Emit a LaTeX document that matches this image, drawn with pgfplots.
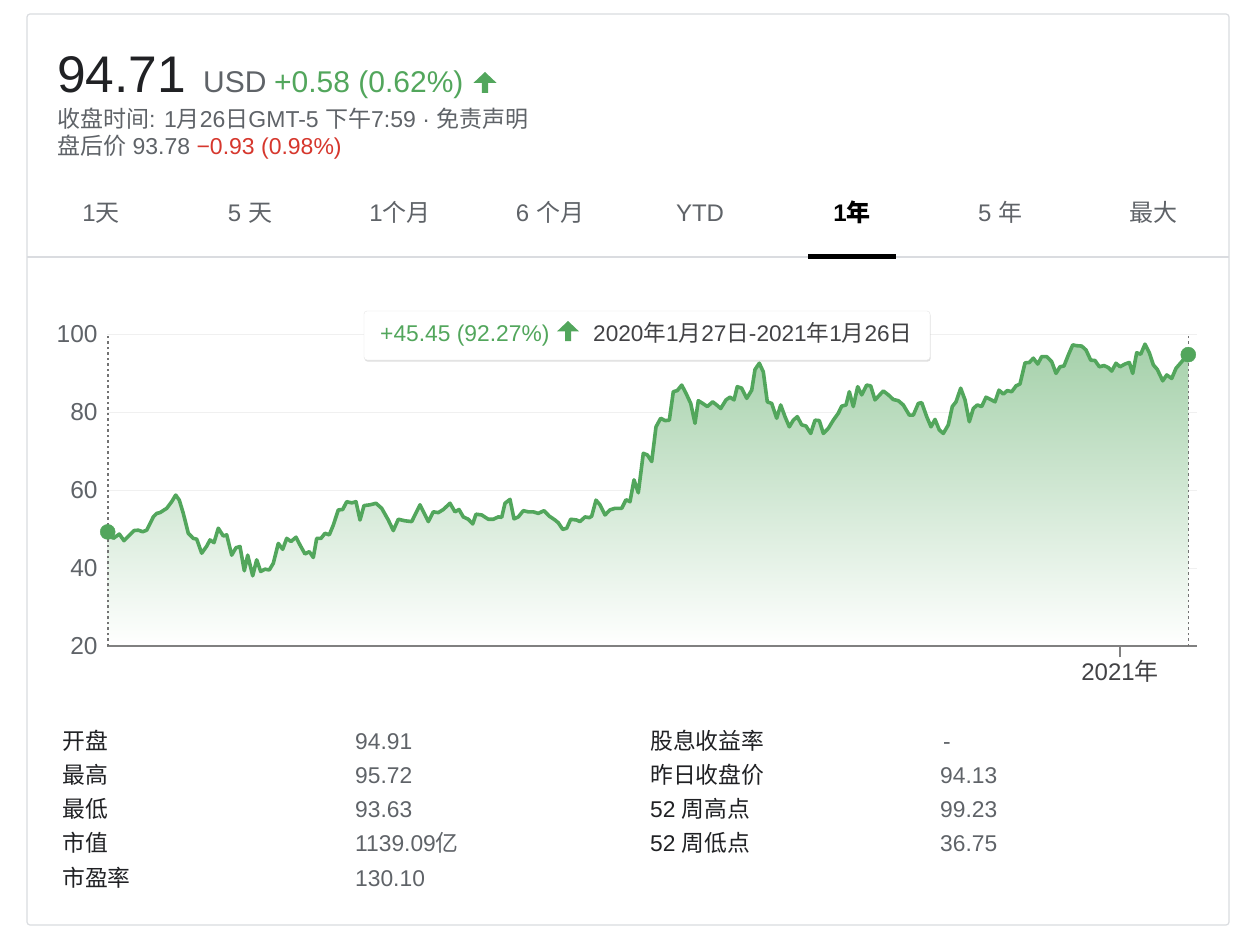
\documentclass[border=0pt]{standalone}
\usepackage{fontspec}
\setmainfont{Liberation Sans}
\newfontfamily\cjk{Noto Sans CJK SC}
\usepackage{pgfplots}
\usepackage{pgfplotstable}
\pgfplotsset{compat=1.18}
\usetikzlibrary{shadows}
\definecolor{gup}{RGB}{82,166,92}
\definecolor{gred}{RGB}{214,55,45}
\definecolor{tdark}{RGB}{32,33,36}
\definecolor{tgray}{RGB}{95,99,104}
\definecolor{bord}{RGB}{218,220,224}
\newcommand\zh[1]{{\cjk #1}}
\newcommand\fs[1]{\fontsize{#1}{#1}\selectfont}
\newcommand\garrow[3]{% x center, y top (px), height
  \fill[gup] ({#1},{-(#2)}) -- ({#1+0.55*#3},{-(#2)-0.52*#3}) -- ({#1+0.15*#3},{-(#2)-0.52*#3})
   -- ({#1+0.15*#3},{-(#2)-#3}) -- ({#1-0.15*#3},{-(#2)-#3}) -- ({#1-0.15*#3},{-(#2)-0.52*#3})
   -- ({#1-0.55*#3},{-(#2)-0.52*#3}) -- cycle;}

\pgfplotstableread{
x y
107.7 49.26
113.3 47.6
119.3 48.7
124 47.0
134 49.6
138.3 49.7
142.7 49.3
146.7 49.7
153.3 53.1
156.7 54.0
160 54.2
166.7 55.3
171.7 57.0
175.7 58.7
179.3 57.4
183.3 54.0
188.3 48.9
193.3 47.6
196.7 47.4
201.7 43.8
206.7 45.6
210 47.2
214 46.5
218.3 50.2
223.3 48.2
226.7 48.5
231.7 43.3
236 45.2
240 45.5
244.3 39.3
247.7 43.3
252.7 38.0
256.7 42.1
260.7 39.1
265 39.7
269.3 39.5
273.3 41.2
278.3 46.3
282.7 44.8
286.7 47.6
291 46.8
296 47.9
300 45.9
305 43.6
309.3 44.2
313.3 42.7
316.7 47.6
321 47.6
325 48.9
329.3 48.5
333.3 51.0
338.3 54.9
342.7 55.0
346.7 57.0
351.7 56.7
356 57.0
360 52.3
364 56.0
370 56.2
376 56.6
381.7 55.3
388.3 52.3
393.3 49.6
398.3 52.5
405 52.1
411.7 51.9
420 56.2
428.3 51.9
433.3 54.4
438.3 54.2
443.3 55.0
450 56.6
455 54.4
459 55.0
463.3 53.1
468.3 52.5
472.7 51.3
476 53.8
481.7 53.6
488.3 52.5
493.3 52.5
498.3 53.1
501.7 53.0
505 56.6
510 57.6
514 52.6
518.3 53.1
523.3 54.7
528.3 54.4
533.3 54.4
538.3 54.0
544 54.7
549.3 53.3
555 52.3
558.3 51.6
562.7 49.9
566.7 50.2
570.7 52.5
576.7 52.3
580 51.9
585 53.1
589.3 52.9
591.7 53.3
596 57.4
600 56.2
605 53.6
610 54.9
615 55.3
621.7 55.3
626 57.5
630 57.0
634 62.6
638.3 59.3
643.3 69.4
647.3 69.0
651.7 67.3
656 76.2
660.7 78.4
665 77.8
669.3 77.9
673.3 85.2
677.3 85.5
681.7 86.9
686 84.8
690.7 82.2
695 77.1
698.3 82.9
703.3 82.1
707.3 81.4
712.7 82.6
716.7 81.8
720.7 80.9
726 83.1
730 83.8
734 83.1
737.3 86.5
741.7 86.1
746.7 83.5
751.7 85.6
755 90.9
759.3 92.5
763.3 90.3
767.3 82.6
771.7 82.2
776.7 78.4
780.7 81.8
785 78.8
789.3 76.2
793.3 77.9
797.3 78.8
801.7 76.7
806 76.4
810.7 74.5
815 77.9
819.3 77.8
823.3 74.5
828.3 75.8
833.3 77.9
838.3 79.7
841.7 81.5
846 81.8
849.3 85.2
853.3 81.4
857.7 86.5
861.7 84.4
866.7 86.9
870.7 86.7
875 83.1
883.3 85.4
888.3 84.4
893.3 83.2
898.3 82.9
903.3 81.8
909.3 79.2
913.3 79.2
918.3 82.2
921.7 82.4
926.7 78.8
931 76.2
935 78.1
939.3 75.4
943.3 74.5
948.3 76.7
952.3 81.4
956 82.6
960.7 86.1
965 83.1
969.3 77.5
973.3 80.9
977.3 81.8
981.7 81.4
986 83.8
990.7 83.2
995 82.6
999 85.6
1003.3 84.6
1007.3 85.5
1011.7 85.2
1016 86.7
1020 87.2
1025 92.6
1029.3 92.7
1033.3 93.8
1037.7 92.3
1041.7 94.2
1046.7 94.2
1051.7 92.9
1056 89.9
1060 91.6
1064 91.8
1068.3 94.6
1072.7 97.2
1076.7 97.0
1081.7 96.9
1086 95.9
1090.7 93.3
1095 93.2
1099.3 91.6
1104 91.9
1108.3 91.4
1111.7 90.5
1116 92.5
1120 91.6
1125 92.3
1129.3 92.7
1132.7 89.9
1136.7 95.2
1140.7 94.8
1145 97.4
1149.3 95.2
1153.3 92.1
1157.3 90.9
1162.7 88.0
1166.7 89.5
1171.7 88.6
1176 91.2
1182.7 93.2
1188.3 94.71
}\pricedata

\begin{document}
\begin{tikzpicture}[x=1pt,y=1pt]
\path[use as bounding box, fill=white] (0,0) rectangle (1236,-933);
% card
\draw[bord, line width=1.2pt, rounded corners=3pt] (27,-14) rectangle (1229,-925);
\draw[bord, line width=1.2pt] (27,-257) -- (1229,-257);
\fill[black] (808,-254) rectangle (896,-259);

% header
\node[anchor=base west, inner sep=0, text=tdark] at (57,-93) {\fs{51.5}94.71};
\node[anchor=base west, inner sep=0, text=tgray] at (203,-93) {\fs{30}USD};
\node[anchor=base west, inner sep=0, text=gup] at (274,-93) {\fs{30}+0.58 (0.62\%)};
\garrow{485}{72}{21}
\node[anchor=base west, inner sep=0, text=tgray] at (57,-128) {\fs{23}\zh{收盘时间}: 1\zh{月}26\zh{日}GMT-5 \zh{下午}7:59 · \zh{免责声明}};
\node[anchor=base west, inner sep=0, text=tgray] at (57,-154.5) {\fs{23}\zh{盘后价} 93.78 \textcolor{gred}{−0.93 (0.98\%)}};

% tabs
\begin{scope}[every node/.style={anchor=base, inner sep=0, text=tgray, font=\fs{24}}]
\node at (101,-222) {1\zh{天}};
\node at (250,-222) {5 \zh{天}};
\node at (400,-222) {1\zh{个月}};
\node at (550,-222) {6 \zh{个月}};
\node at (700,-222) {YTD};
\node[text=black] at (852,-222) {\bfseries 1\zh{年}};
\node at (1000,-222) {5 \zh{年}};
\node at (1153,-222) {\zh{最大}};
\end{scope}

\begin{axis}[
  at={(107pt,-646pt)}, anchor=south west,
  scale only axis, width=1090pt, height=312pt,
  xmin=107, xmax=1197, ymin=20, ymax=100,
  axis line style={draw=none},
  ytick={20,40,60,80,100},
  xtick={1120}, xticklabels={2021\zh{年}},
  xtick pos=left, ytick pos=left,
  ymajorgrids, grid style={color=black!6, line width=1pt},
  tick align=outside,
  xtick style={draw=black!50, line width=1.3pt, /pgfplots/major tick length=11pt},
  ytick style={draw=none, /pgfplots/major tick length=0pt},
  yticklabel style={font=\fs{24.5}, text=tgray, anchor=east, inner sep=0pt, xshift=-5pt},
  xticklabel style={font=\fs{24}, text=tdark!85, anchor=north, inner sep=0pt, yshift=-10pt},
  /pgf/number format/assume math mode=true,
  clip=false,
]
\addplot[draw=none, top color=gup!52!white, bottom color=white, forget plot] table[x=x,y=y] {\pricedata} \closedcycle;
\draw[black!50, line width=1.3pt] (axis cs:107,20) -- (axis cs:1197,20);
\draw[black!55, line width=1.6pt, dash pattern=on 2.5pt off 3pt] (axis cs:107.7,20) -- (axis cs:107.7,100);
\draw[black!55, line width=1.6pt, dash pattern=on 2.5pt off 3pt] (axis cs:1188.3,20) -- (axis cs:1188.3,100);
\addplot[gup, line width=3.6pt, line join=round, mark=none] table[x=x,y=y] {\pricedata};
\addplot[only marks, mark=*, mark size=7.5pt, gup] coordinates {(107.7,49.26) (1188.3,94.71)};
\end{axis}

% tooltip
\path[fill=white, draw=black!10, rounded corners=3pt, drop shadow={opacity=0.25, shadow xshift=0.6pt, shadow yshift=-1.6pt}] (364,-311) rectangle (930,-360);
\node[anchor=base west, inner sep=0, text=gup] at (380,-341) {\fs{22.8}+45.45 (92.27\%)};
\garrow{568}{321}{20}
\node[anchor=base west, inner sep=0, text=tdark!85] at (593,-341) {\fs{22.6}2020\zh{年}1\zh{月}27\zh{日}-2021\zh{年}1\zh{月}26\zh{日}};

% stats table
\begin{scope}[every node/.style={anchor=base west, inner sep=0, font=\fs{22.8}}]
\node[text=tdark] at (62,-749) {\zh{开盘}};
\node[text=tdark] at (62,-783) {\zh{最高}};
\node[text=tdark] at (62,-817) {\zh{最低}};
\node[text=tdark] at (62,-851) {\zh{市值}};
\node[text=tdark] at (62,-886) {\zh{市盈率}};
\node[text=tgray] at (355,-749) {94.91};
\node[text=tgray] at (355,-783) {95.72};
\node[text=tgray] at (355,-817) {93.63};
\node[text=tgray] at (355,-851) {1139.09\zh{亿}};
\node[text=tgray] at (355,-886) {130.10};
\node[text=tdark] at (650,-749) {\zh{股息收益率}};
\node[text=tdark] at (650,-783) {\zh{昨日收盘价}};
\node[text=tdark] at (650,-817) {52 \zh{周高点}};
\node[text=tdark] at (650,-851) {52 \zh{周低点}};
\node[text=tgray] at (943,-749) {-};
\node[text=tgray] at (940,-783) {94.13};
\node[text=tgray] at (940,-817) {99.23};
\node[text=tgray] at (940,-851) {36.75};
\end{scope}
\end{tikzpicture}
\end{document}
